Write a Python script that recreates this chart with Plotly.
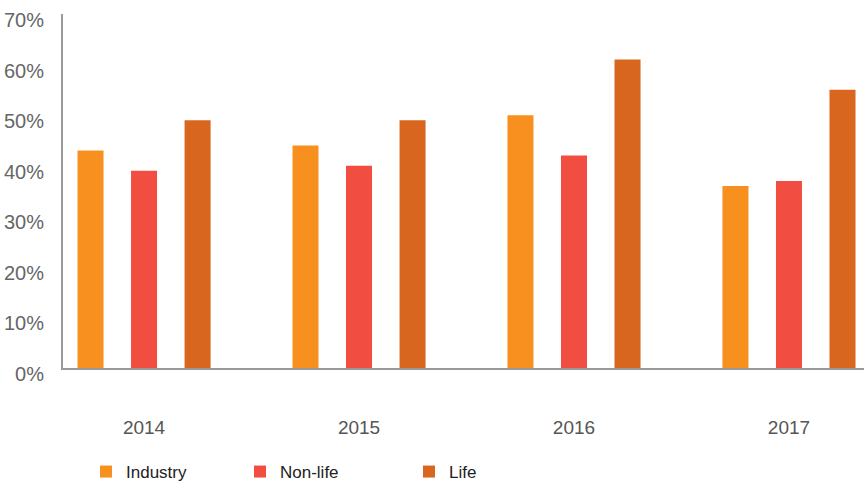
import plotly.graph_objects as go

years = ["2014", "2015", "2016", "2017"]
industry = [0.43, 0.44, 0.50, 0.36]
nonlife = [0.39, 0.40, 0.42, 0.37]
life = [0.49, 0.49, 0.61, 0.55]
series_names = ["Industry", "Non-life", "Life"]
colors = ["#F7901E", "#F14D41", "#D8661E"]
y_ticks = [0, 0.1, 0.2, 0.3, 0.4, 0.5, 0.6, 0.7]
y_tick_text = ["0%", "10%", "20%", "30%", "40%", "50%", "60%", "70%"]

fig = go.Figure()
legend_ids = ["legend", "legend2", "legend3"]
for name, vals, col, lg in zip(series_names, [industry, nonlife, life], colors, legend_ids):
    fig.add_trace(go.Bar(x=list(range(len(years))), y=vals, name=name,
                         marker=dict(color=col, line=dict(width=0)),
                         legend=lg))

font_family = "Helvetica Neue, Liberation Sans, Arial, sans-serif"
legend_x_px = [86, 240, 409]
legend_common = dict(orientation="h", yanchor="middle", y=11 / 483, yref="container",
                     xref="container", xanchor="left", bgcolor="rgba(0,0,0,0)",
                     font=dict(family=font_family, size=17, color="#222222"))
layout_legends = {}
for lg, px in zip(legend_ids, legend_x_px):
    d = dict(legend_common)
    d["x"] = px / 864
    layout_legends[lg] = d

fig.update_layout(
    width=864, height=483,
    margin=dict(l=63, r=0, t=14, b=115, autoexpand=False),
    plot_bgcolor="white", paper_bgcolor="white",
    barmode="group", bargap=0.253, bargroupgap=0.514,
    showlegend=True,
    xaxis=dict(range=[-0.377, 3.349], tickmode="array",
               tickvals=list(range(len(years))), ticktext=years,
               showgrid=False, zeroline=False, showline=True,
               linecolor="#999999", linewidth=2, ticks="",
               ticklabelstandoff=41, automargin=False,
               tickfont=dict(family=font_family, size=19, color="#555555")),
    yaxis=dict(range=[0, 0.70], tickmode="array", tickvals=y_ticks,
               ticktext=y_tick_text, showgrid=False, zeroline=False,
               showline=True, linecolor="#999999", linewidth=2, ticks="",
               ticklabelstandoff=13, ticklabelshift=6, automargin=False,
               tickfont=dict(family=font_family, size=20, color="#666666")),
    **layout_legends,
)

fig.write_html("out.html", config={"displayModeBar": False},
               post_script="document.body.style.margin='0';")
